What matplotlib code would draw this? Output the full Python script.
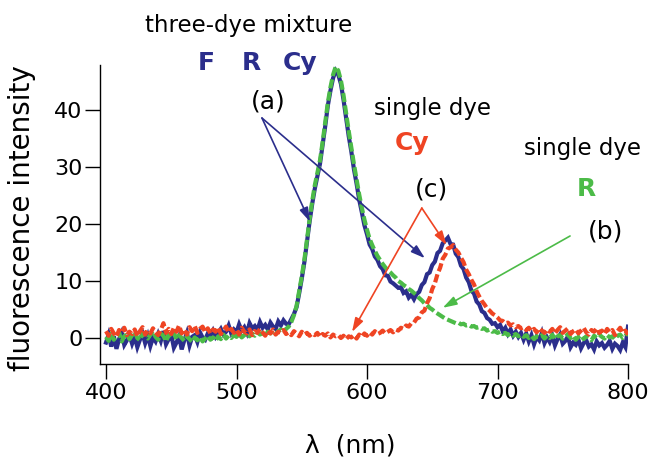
import numpy as np
import matplotlib
matplotlib.use("Agg")
import matplotlib.pyplot as plt

# ---- data ----
wavelength = np.arange(400, 801, 2)  # nm sampling grid

mixture_FRCy = [
    -0.8, 0.6, -1.5, 0.3, -1.9, -0.2, 0.9, -1.2, -0.4, 0.5,
    -1.0, 0.2, -1.6, -0.3, 0.8, -0.9, 0.4, -1.4, 0.1, -0.6,
    0.7, -0.5, 1.2, -1.1, -0.2, 0.6, -1.7, -0.8, 0.3, -2.0,
    -0.4, 0.9, -1.3, 0.2, 0.5, -0.7, 1.0, 0.1, -0.3, 0.8,
    0.4, 1.3, 0.2, 0.9, 1.6, 0.6, 1.1, 2.2, 0.8, 1.5,
    1.0, 2.4, 1.3, 1.9, 0.9, 2.6, 1.7, 2.1, 1.4, 2.8,
    1.8, 2.3, 1.5, 2.7, 2.0, 1.6, 2.9, 2.2, 3.1, 2.5,
    2.4, 3.3, 4.2, 5.4, 7.8, 10.4, 13.3, 16.9, 20.4, 23.5,
    26.2, 28.4, 30.6, 33.9, 37.2, 40.8, 43.4, 45.6, 46.9, 46.2,
    44.6, 41.8, 38.6, 35.4, 32.7, 29.6, 27.1, 24.3, 22.1, 19.8,
    18.2, 16.4, 15.6, 14.3, 13.7, 12.6, 12.1, 11.0, 10.9, 9.9,
    9.6, 9.2, 8.8, 8.9, 7.9, 8.2, 7.1, 7.6, 6.8, 7.7,
    8.1, 9.3, 9.8, 11.2, 11.5, 12.8, 13.4, 14.9, 15.3, 16.6,
    17.1, 17.6, 16.5, 16.4, 14.8, 14.2, 12.7, 12.1, 10.6, 9.8,
    8.3, 7.8, 6.4, 5.9, 4.7, 4.4, 3.5, 3.2, 2.5, 2.6,
    1.9, 2.3, 1.2, 1.8, 0.7, 1.5, 0.4, 1.1, 0.2, 0.9,
    -0.3, 0.8, -0.6, 0.5, -1.1, 0.2, -0.4, 0.9, -0.9, 0.1,
    -0.7, 0.4, -1.3, -0.2, 0.6, -1.0, -0.5, 0.3, -1.6, -0.8,
    -1.2, -0.3, -1.8, -0.9, -0.4, -1.5, -1.1, -2.0, -0.6, -1.3,
    -0.9, -1.7, -1.2, -0.5, -1.9, -1.0, -1.4, -2.1, -0.8, -1.6,
    2.0,
]

single_R = [
    0.2, -0.5, 0.8, -0.3, 0.4, 1.0, -0.6, 0.3, 0.7, -0.2,
    0.5, 1.1, 0.0, -0.4, 0.9, 0.3, -0.1, 0.6, 1.2, 0.2,
    -0.3, 0.8, 0.4, -0.6, 0.6, 0.1, 0.9, -0.2, 0.5, 0.0,
    -0.5, 0.3, -0.2, -0.7, 0.1, -0.4, 0.2, -0.6, -0.1, 0.4,
    -0.3, 0.1, -0.5, 0.3, -0.2, 0.6, -0.1, 0.4, 0.0, 0.5,
    0.2, 0.7, 0.1, 0.5, 0.9, 0.3, 0.8, 0.4, 1.0, 0.6,
    0.9, 0.5, 1.1, 0.8, 1.3, 0.7, 1.2, 1.5, 1.0, 1.6,
    2.0, 2.8, 4.0, 5.6, 8.2, 10.8, 13.7, 17.2, 20.8, 24.0,
    26.8, 29.0, 31.2, 34.4, 37.8, 41.3, 44.0, 46.2, 47.6, 46.9,
    45.2, 42.6, 39.4, 36.3, 33.4, 30.5, 27.9, 25.2, 22.9, 20.8,
    19.0, 17.4, 16.3, 15.3, 14.4, 13.7, 13.0, 12.4, 11.9, 11.5,
    11.0, 10.6, 10.0, 9.7, 9.3, 9.0, 8.6, 8.3, 7.9, 7.5,
    7.0, 6.6, 6.1, 5.8, 5.3, 5.0, 4.6, 4.3, 4.0, 3.7,
    3.4, 3.2, 3.0, 2.8, 2.6, 2.7, 2.4, 2.5, 2.2, 2.3,
    2.0, 2.1, 1.8, 1.9, 1.6, 1.7, 1.3, 1.5, 1.1, 1.2,
    0.9, 1.1, 0.7, 0.9, 0.5, 0.8, 0.4, 0.7, 0.3, 0.6,
    0.2, 0.5, 0.0, 0.4, -0.2, 0.3, 0.1, 0.5, -0.1, 0.4,
    0.0, 0.6, -0.2, 0.3, 0.5, -0.1, 0.2, 0.7, 0.0, 0.4,
    -0.3, 0.2, 0.5, -0.2, 0.3, 0.1, -0.4, 0.4, 0.0, 0.6,
    0.2, -0.1, 0.5, 0.1, 0.3, -0.2, 0.4, 0.6, 0.0, 0.3,
    1.2,
]

single_Cy = [
    1.2, 0.4, 1.6, 0.8, 0.2, 1.4, 0.9, 1.8, 0.5, 1.1,
    0.7, 1.5, 0.3, 1.2, 1.9, 0.6, 1.3, 0.8, 1.7, 1.0,
    0.5, 1.4, 2.6, 0.9, 1.6, 0.7, 1.8, 1.1, 2.2, 0.8,
    1.5, 0.6, 1.9, 1.2, 2.1, 0.9, 1.6, 2.0, 1.0, 1.7,
    0.8, 1.5, 1.1, 1.9, 0.7, 1.3, 2.0, 1.0, 1.6, 0.9,
    1.4, 0.6, 1.8, 1.1, 0.8, 1.5, 0.5, 1.2, 0.9, 1.6,
    1.0, 0.4, 1.3, 0.8, 1.5, 0.6, 1.1, 0.9, 1.4, 0.7,
    1.0, 0.5, 1.2, 0.8, 0.3, 1.1, 0.6, 0.9, 0.4, 0.8,
    0.5, 0.9, 0.2, 0.7, 0.4, 0.8, 0.1, 0.6, 0.3, 0.5,
    0.0, 0.4, -0.2, 0.3, 0.1, 0.5, -0.1, 0.6, 0.2, 0.8,
    0.4, 1.0, 0.6, 1.2, 0.7, 0.9, 1.3, 0.8, 1.1, 1.4,
    1.0, 1.5, 1.3, 1.8, 1.6, 2.2, 2.0, 2.6, 2.7, 3.4,
    3.6, 4.5, 4.8, 6.1, 7.0, 8.6, 9.6, 11.2, 12.3, 13.9,
    14.6, 15.7, 15.9, 16.3, 15.5, 15.0, 14.1, 13.3, 12.0, 11.2,
    10.2, 9.4, 8.2, 7.3, 6.5, 5.9, 5.2, 4.8, 4.3, 4.0,
    3.6, 3.1, 3.0, 2.6, 2.7, 2.2, 2.4, 1.9, 2.1, 1.7,
    1.9, 1.4, 1.8, 1.2, 1.6, 1.0, 1.7, 1.3, 0.9, 1.5,
    1.1, 1.6, 0.8, 1.4, 1.9, 0.9, 1.3, 1.7, 0.7, 1.2,
    1.5, 0.8, 1.3, 1.8, 1.0, 0.6, 1.4, 1.1, 1.7, 0.9,
    1.3, 0.7, 1.6, 1.0, 1.4, 0.5, 1.2, 1.8, 0.9, 1.3,
    0.6,
]

x_ticks = [400, 500, 600, 700, 800]
y_ticks = [0, 10, 20, 30, 40]

BLUE = "#2b2e8c"
GREEN = "#4cbb48"
RED = "#ef4423"

plt.rcParams["font.family"] = ["DejaVu Sans"]

W, H = 655, 457
fig = plt.figure(figsize=(W / 100, H / 100), dpi=100)
ax = fig.add_axes([100 / W, (H - 364) / H, 528 / W, 299 / H])

ax.plot(wavelength, mixture_FRCy, color=BLUE, lw=3.0, solid_joinstyle="miter")
ax.plot(wavelength, single_R, color=GREEN, lw=3.0, dashes=(2.2, 0.8))
ax.plot(wavelength, single_Cy, color=RED, lw=3.0, dashes=(2.0, 0.8))

ax.set_xlim(395.4, 800)
ax.set_ylim(-4.56, 47.9)
ax.set_xticks(x_ticks)
ax.set_yticks(y_ticks)
for s in ("top", "right"):
    ax.spines[s].set_visible(False)
for s in ("left", "bottom"):
    ax.spines[s].set_linewidth(1.0)
ax.tick_params(axis="both", direction="out", length=10.5, width=1.0, labelsize=16)
ax.tick_params(axis="y", pad=2)
ax.tick_params(axis="x", pad=3.5)

ax.set_xlabel("λ  (nm)", fontsize=18, va="center")
ax.xaxis.set_label_coords((350 - 100) / 528, (364 - 445) / 299)
ax.set_ylabel("fluorescence intensity", fontsize=20)
ax.yaxis.set_label_coords((36 - 100) / 528, (364 - 218) / 299)


def ftext(px, py, s, **kw):
    fig.text(px / W, 1 - py / H, s, **kw)


ftext(248.5, 32, "three-dye mixture", fontsize=16.5, ha="center", va="baseline")
ftext(198, 70, "F", fontsize=18, fontweight="bold", color=BLUE, ha="left", va="baseline")
ftext(242, 70, "R", fontsize=18, fontweight="bold", color=BLUE, ha="left", va="baseline")
ftext(283, 70, "Cy", fontsize=18, fontweight="bold", color=BLUE, ha="left", va="baseline")
ftext(268.5, 101, "(a)", fontsize=18, ha="center", va="center")
ftext(432.5, 115, "single dye", fontsize=16.5, ha="center", va="baseline")
ftext(395, 150, "Cy", fontsize=18, fontweight="bold", color=RED, ha="left", va="baseline")
ftext(431.5, 190, "(c)", fontsize=18, ha="center", va="center")
ftext(582.5, 155, "single dye", fontsize=16.5, ha="center", va="baseline")
ftext(577, 196, "R", fontsize=18, fontweight="bold", color=GREEN, ha="left", va="baseline")
ftext(605.5, 232, "(b)", fontsize=18, ha="center", va="center")

astyle = "-|>,head_length=0.7,head_width=0.22"


def arrow(start, end, color):
    ax.annotate("", xy=end, xytext=start, xycoords="data", textcoords="data",
                arrowprops=dict(arrowstyle=astyle, color=color, lw=1.2,
                                shrinkA=0, shrinkB=0, mutation_scale=12),
                annotation_clip=False)


arrow((519.5, 38.6), (556.3, 20.4), BLUE)
arrow((519.5, 38.6), (644.4, 14.0), BLUE)
arrow((642.0, 22.8), (588.5, 1.05), RED)
arrow((642.0, 22.8), (661.0, 16.3), RED)
arrow((755.6, 17.9), (658.0, 5.3), GREEN)

fig.savefig("out.png", dpi=100)
